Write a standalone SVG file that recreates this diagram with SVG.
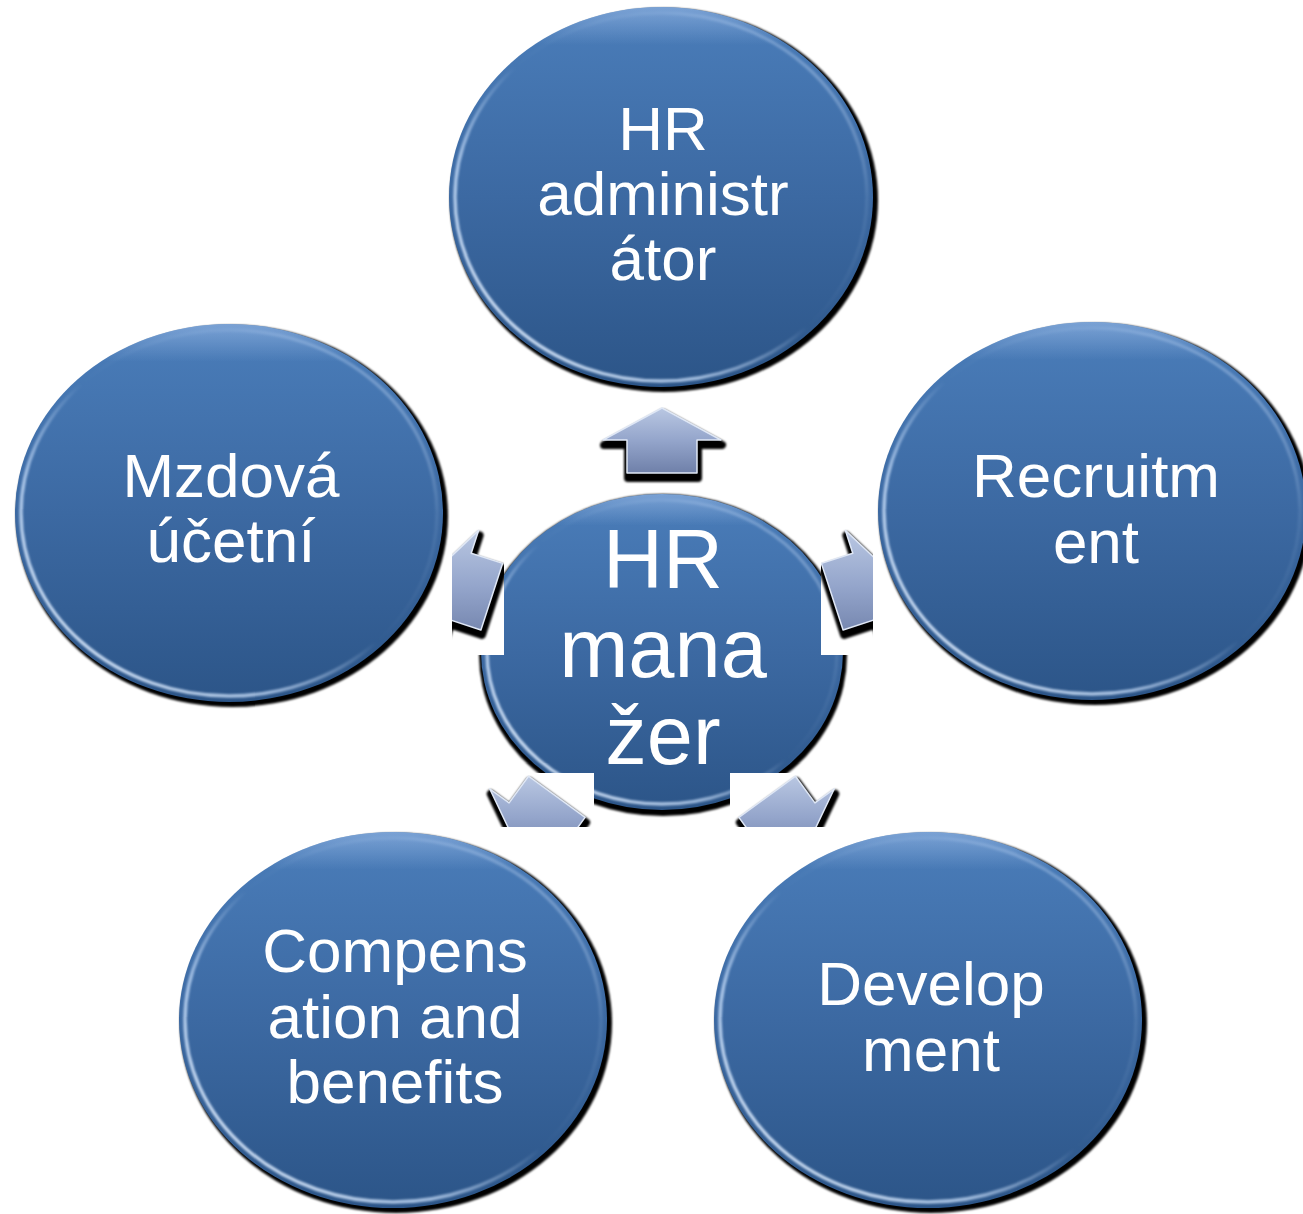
<svg xmlns="http://www.w3.org/2000/svg" width="1303" height="1214" viewBox="0 0 1303 1214">
<defs>
<linearGradient id="gFill" x1="0" y1="0" x2="0" y2="1">
<stop offset="0" stop-color="#4c7ebb"/>
<stop offset="0.08" stop-color="#487ab6"/>
<stop offset="0.5" stop-color="#3c69a2"/>
<stop offset="1" stop-color="#2c5588"/>
</linearGradient>
<linearGradient id="gRim" x1="0" y1="1" x2="1" y2="0">
<stop offset="0" stop-color="#eaf4ff" stop-opacity="0.95"/>
<stop offset="0.3" stop-color="#cfe4ff" stop-opacity="0.7"/>
<stop offset="0.5" stop-color="#cfe4ff" stop-opacity="0"/>
<stop offset="0.75" stop-color="#cfe4ff" stop-opacity="0.1"/>
<stop offset="1" stop-color="#dbeaff" stop-opacity="0.6"/>
</linearGradient>
<linearGradient id="gTop" x1="0" y1="0" x2="0" y2="1">
<stop offset="0" stop-color="#a9c6ee" stop-opacity="0.5"/>
<stop offset="0.1" stop-color="#a9c6ee" stop-opacity="0"/>
</linearGradient>
<linearGradient id="gArrow" x1="0" y1="0" x2="0" y2="1">
<stop offset="0" stop-color="#b9c7e2"/>
<stop offset="0.5" stop-color="#94a5cb"/>
<stop offset="1" stop-color="#6f80a9"/>
</linearGradient>
<filter id="blur" x="-10%" y="-10%" width="120%" height="120%">
<feGaussianBlur stdDeviation="1.1"/>
</filter>
<filter id="blur1" x="-10%" y="-10%" width="120%" height="120%">
<feGaussianBlur stdDeviation="0.8"/>
</filter>
<clipPath id="cL"><rect x="452" y="515" width="52" height="140"/></clipPath>
<clipPath id="cR"><rect x="821" y="515" width="52" height="140"/></clipPath>
<clipPath id="cBL"><rect x="480" y="773" width="114" height="54"/></clipPath>
<clipPath id="cBR"><rect x="730" y="773" width="114" height="54"/></clipPath>
</defs>
<style>
.shadow{fill:#000;filter:url(#blur)}
.body{fill:url(#gFill)}
.sheen{fill:url(#gTop)}
.rim{fill:none;stroke:url(#gRim);stroke-width:3.5;filter:url(#blur1)}
.lbl{font-family:"Liberation Sans",Arial,Helvetica,sans-serif;fill:#fff;text-anchor:middle;font-size:62px}
.big{font-size:83px}
.ash{fill:#000;stroke:#000;stroke-width:8;stroke-linejoin:round;filter:url(#blur1)}
.arr{fill:url(#gArrow);stroke:#dfe7f5;stroke-width:1.5;stroke-linejoin:round}
.tile{fill:#fff}
</style>
<rect width="1303" height="1214" fill="#fff"/>

<g id="node-hr-administrator">
<ellipse class="shadow" cx="664" cy="200" rx="214" ry="192"/>
<ellipse class="body" cx="661" cy="197" rx="212" ry="190"/>
<ellipse class="sheen" cx="661" cy="197" rx="212" ry="190"/>
<ellipse class="rim" cx="661" cy="197" rx="206" ry="184"/>
<text class="lbl" x="663" y="150">HR</text>
<text class="lbl" x="663" y="215">administr</text>
<text class="lbl" x="663" y="280">átor</text>
</g>

<g id="node-mzdova">
<ellipse class="shadow" cx="232" cy="516" rx="216" ry="191"/>
<ellipse class="body" cx="229" cy="513" rx="214" ry="189"/>
<ellipse class="sheen" cx="229" cy="513" rx="214" ry="189"/>
<ellipse class="rim" cx="229" cy="513" rx="208" ry="183"/>
<text class="lbl" x="231" y="497">Mzdová</text>
<text class="lbl" x="231" y="562">účetní</text>
</g>

<g id="node-recruitment">
<ellipse class="shadow" cx="1095" cy="514" rx="216" ry="191"/>
<ellipse class="body" cx="1092" cy="511" rx="214" ry="189"/>
<ellipse class="sheen" cx="1092" cy="511" rx="214" ry="189"/>
<ellipse class="rim" cx="1092" cy="511" rx="208" ry="183"/>
<text class="lbl" x="1096" y="497">Recruitm</text>
<text class="lbl" x="1096" y="563">ent</text>
</g>

<g id="node-compensation">
<ellipse class="shadow" cx="396" cy="1023" rx="216" ry="190"/>
<ellipse class="body" cx="393" cy="1020" rx="214" ry="188"/>
<ellipse class="sheen" cx="393" cy="1020" rx="214" ry="188"/>
<ellipse class="rim" cx="393" cy="1020" rx="208" ry="182"/>
<text class="lbl" x="395" y="972">Compens</text>
<text class="lbl" x="395" y="1038">ation and</text>
<text class="lbl" x="395" y="1103">benefits</text>
</g>

<g id="node-development">
<ellipse class="shadow" cx="931" cy="1023" rx="216" ry="190"/>
<ellipse class="body" cx="928" cy="1020" rx="214" ry="188"/>
<ellipse class="sheen" cx="928" cy="1020" rx="214" ry="188"/>
<ellipse class="rim" cx="928" cy="1020" rx="208" ry="182"/>
<text class="lbl" x="931" y="1005">Develop</text>
<text class="lbl" x="931" y="1071">ment</text>
</g>

<g id="node-hr-manager">
<ellipse class="shadow" cx="663" cy="655" rx="184" ry="161"/>
<ellipse class="body" cx="662" cy="652" rx="181" ry="158"/>
<ellipse class="sheen" cx="662" cy="652" rx="181" ry="158"/>
<ellipse class="rim" cx="662" cy="652" rx="175" ry="152"/>
<text class="lbl big" x="663" y="588">HR</text>
<text class="lbl big" x="663" y="677">mana</text>
<text class="lbl big" x="663" y="764">žer</text>
</g>

<g id="connectors">
<g id="arrow-up">
<polygon class="ash" transform="translate(1,5)" points="662,408 721,440 697,440 697,473 627,473 627,440 603,440"/>
<polygon class="arr" points="662,408 721,440 697,440 697,473 627,473 627,440 603,440"/>
</g>
<g id="arrow-right" clip-path="url(#cR)">
<rect class="tile" x="821" y="515" width="52" height="140"/>
<polygon class="ash" transform="translate(1,5)" points="894.1,576.6 881.9,642.6 874.4,619.8 843.1,630.0 821.4,563.4 852.8,553.2 845.4,530.4"/>
<polygon class="arr" points="894.1,576.6 881.9,642.6 874.4,619.8 843.1,630.0 821.4,563.4 852.8,553.2 845.4,530.4"/>
</g>
<g id="arrow-left" clip-path="url(#cL)">
<rect class="tile" x="452" y="515" width="52" height="140"/>
<polygon class="ash" transform="translate(1,5)" points="429.9,576.6 442.1,642.6 449.6,619.8 480.9,630.0 502.6,563.4 471.2,553.2 478.6,530.4"/>
<polygon class="arr" points="429.9,576.6 442.1,642.6 449.6,619.8 480.9,630.0 502.6,563.4 471.2,553.2 478.6,530.4"/>
</g>
<g id="arrow-bottom-right" clip-path="url(#cBR)">
<rect class="tile" x="730" y="773" width="114" height="54"/>
<polygon class="ash" transform="translate(1,5)" points="805.4,849.4 738.9,858.2 758.3,844.1 738.9,817.4 795.5,776.2 814.9,802.9 834.3,788.8"/>
<polygon class="arr" points="805.4,849.4 738.9,858.2 758.3,844.1 738.9,817.4 795.5,776.2 814.9,802.9 834.3,788.8"/>
</g>
<g id="arrow-bottom-left" clip-path="url(#cBL)">
<rect class="tile" x="480" y="773" width="114" height="54"/>
<polygon class="ash" transform="translate(1,5)" points="518.6,849.4 585.1,858.2 565.7,844.1 585.1,817.4 528.5,776.2 509.1,802.9 489.7,788.8"/>
<polygon class="arr" points="518.6,849.4 585.1,858.2 565.7,844.1 585.1,817.4 528.5,776.2 509.1,802.9 489.7,788.8"/>
</g>
</g>
</svg>
